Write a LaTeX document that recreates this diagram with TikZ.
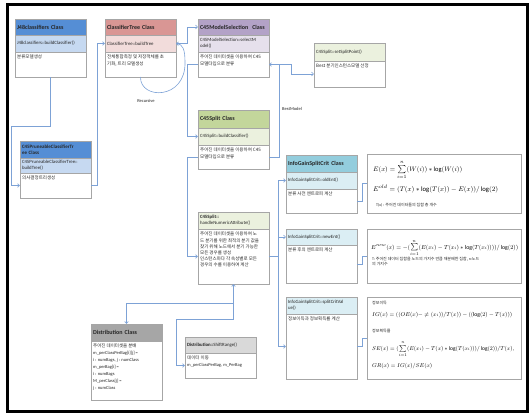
\documentclass[tikz,border=0pt]{standalone}
\usepackage{fontspec}
\usepackage{graphicx}
\setmainfont{Carlito}
\newfontfamily\kr{Noto Sans CJK KR}
\usetikzlibrary{arrows.meta,calc}
\definecolor{bord}{HTML}{A6A6A6}
\definecolor{connc}{HTML}{7DA2D6}
\definecolor{blueH}{HTML}{558ED5}
\definecolor{blueS}{HTML}{C6D9F1}
\definecolor{redH}{HTML}{D99694}
\definecolor{redS}{HTML}{F2DCDB}
\definecolor{purH}{HTML}{B3A2C7}
\definecolor{purS}{HTML}{E6E0EC}
\definecolor{grnH}{HTML}{C3D69B}
\definecolor{grnS}{HTML}{EBF1DE}
\definecolor{tealH}{HTML}{93CDDD}
\definecolor{tealS}{HTML}{DBEEF4}
\definecolor{grayH}{HTML}{A6A6A6}
\definecolor{grayS}{HTML}{D9D9D9}
\definecolor{txt}{HTML}{262626}
\newcommand\umlHfont{\fontsize{6}{7}\selectfont\bfseries}
\newcommand\umlHsfont{\fontsize{5}{6}\selectfont\bfseries}
\newcommand\umlSfont{\fontsize{4.8}{5.8}\selectfont}
\newcommand\umlBfont{\fontsize{4.5}{6.2}\selectfont}
\newcommand\umlMfont{\fontsize{8}{9}\selectfont}
\tikzset{
  part/.style={draw=bord, line width=0.5pt, anchor=north west, inner sep=0pt, outer sep=0pt,
    minimum width=71, text width=67, align=left, text=txt},
  hdr/.style={font=\umlHfont},
  hdrs/.style={font=\umlHsfont},
  subr/.style={font=\umlSfont},
  ptxt/.style={anchor=north west, inner sep=0pt, align=left, font=\umlBfont, text=txt},
  fbox/.style={draw=bord, line width=0.5pt, anchor=north west, inner sep=0pt, outer sep=0pt},
  mtxt/.style={anchor=base west, inner sep=0pt, font=\umlMfont, text=black},
  note/.style={anchor=base west, inner sep=0pt, align=left, font=\fontsize{4}{5}\selectfont, text=txt},
  conn/.style={draw=connc, line width=0.6pt},
  arr/.style={conn, -{Straight Barb[length=2pt,width=3.6pt]}},
  lbl/.style={inner sep=0pt, font=\fontsize{4.5}{5}\selectfont, text=txt},
}
\begin{document}
\begin{tikzpicture}[x=1pt,y=-1pt]
\useasboundingbox (0,0) rectangle (531,415);
\draw[line width=3pt] (7.5,4.5) rectangle (527,411.5);

% J48classifiers
\node[part,fill=blueH,minimum height=16,hdr] (j48h) at (15,19) {J48classifiers Class};
\node[part,fill=blueS,minimum height=17,subr] (j48s) at (15,35) {J48classifiers::buildClassifier()};
\node[part,fill=white,minimum height=25] (j48b) at (15,52) {};
\node[ptxt] (j48t) at (17,55) {{\kr 분류모델생성}};

% ClassifierTree
\node[part,fill=redH,minimum height=16,hdr] (cth) at (105,19) {ClassifierTree Class};
\node[part,fill=redS,minimum height=17,subr] (cts) at (105,35) {ClassifierTree::buildTree};
\node[part,fill=white,minimum height=25] (ctb) at (105,52) {};
\node[ptxt] (ctt) at (107,55) {{\kr 전체통합측정 및 저장객체를 초}\\{\kr 기화, 트리 모델생성}};

% C45ModelSelection
\node[part,fill=purH,minimum height=16,hdr] (msh) at (198,19) {C45ModelSelection\ \ Class};
\node[part,fill=purS,minimum height=17,subr] (mss) at (198,35) {C45ModelSelection::selectM\\odel()};
\node[part,fill=white,minimum height=25] (msb) at (198,52) {};
\node[ptxt] (mst) at (200,55) {{\kr 주어진 데이터셋을 이용하여 C45}\\{\kr 모델타입으로 분류}};

% C45Split::setSplitPoint
\node[part,fill=grnS,minimum height=18,subr] (ssh) at (314,43) {C45Split::setSplitPoint()};
\node[part,fill=white,minimum height=26] (ssb) at (314,61) {};
\node[ptxt] (sst) at (316,64) {{\kr Best 분기인스턴스모델 선정}};

% C45Split
\node[part,fill=grnH,minimum height=18,hdr] (csh) at (198,110) {C45Split Class};
\node[part,fill=grnS,minimum height=17,subr] (css) at (198,128) {C45Split::buildClassifier()};
\node[part,fill=white,minimum height=24] (csb) at (198,145) {};
\node[ptxt] (cst) at (200,148) {{\kr 주어진 데이터셋을 이용하여 C45}\\{\kr 모델타입으로 분류}};

% C45Split::handleNumericAttribute
\node[part,fill=grnS,minimum height=17,subr] (hnh) at (198,212) {\textbf{C45Split::}\\handleNumericAttribute()};
\node[part,fill=white,minimum height=55] (hnb) at (198,229) {};
\node[ptxt] (hnt) at (200,232) {{\kr 주어진 데이터셋을 이용하여 노}\\{\kr 드 분기를 위한 최적의 분기 값을}\\{\kr 찾기 위해 노드에서 분기 가능한}\\{\kr 모든 경우를 생성}\\{\kr 인스턴스마다 각 속성별로 모든}\\{\kr 경우의 수를 이용하여 계산}};

% C45PruneableClassifierTree
\node[part,fill=blueH,minimum height=17,hdrs] (cph) at (20,141) {C45PruneableClassifierTr\\ee Class};
\node[part,fill=blueS,minimum height=15,subr] (cps) at (20,158) {C45PruneableClassifierTree::\\buildTree()};
\node[part,fill=white,minimum height=25] (cpb) at (20,173) {};
\node[ptxt] (cpt) at (22,176) {{\kr 의사결정트리생성}};

% InfoGainSplitCrit
\node[part,fill=tealH,minimum height=17,hdr] (igh) at (286,155) {InfoGainSplitCrit Class};
\node[part,fill=tealS,minimum height=17,subr] (igs) at (286,172) {InfoGainSplitCrit::oldEnt()};
\node[part,fill=white,minimum height=24] (igb) at (286,189) {};
\node[ptxt] (igt) at (288,192) {{\kr 분류 사전 엔트로피 계산}};

\node[part,fill=tealS,minimum height=16,subr] (neh) at (286,229) {InfoGainSplitCrit::newEnt()};
\node[part,fill=white,minimum height=38] (neb) at (286,245) {};
\node[ptxt] (net) at (288,248) {{\kr 분류 후의 엔트로피 계산}};

\node[part,fill=tealS,minimum height=17,subr] (sch) at (286,297) {InfoGainSplitCrit::splitCritVal\\ue()};
\node[part,fill=white,minimum height=65] (scb) at (286,314) {};
\node[ptxt] (sct) at (288,317) {{\kr 정보이득과 정보획득률 계산}};

% Distribution
\node[part,fill=grayH,minimum height=17,hdr] (dsh) at (91,324) {Distribution Class};
\node[part,fill=white,minimum height=59] (dsb) at (91,341) {};
\node[ptxt,font=\fontsize{4.5}{7}\selectfont] (dst) at (93,344) {{\kr 주어진 데이터셋을 분배}\\m\_perClassPerBag[i][j] =\\i : numBags, j : numClass\\m\_perBag[i] =\\i : numBags\\M\_perClass[j] =\\j : numClass};

\node[part,fill=grayS,minimum height=16,subr] (srh) at (185,337) {\textbf{Distribution::}ShiftRange()};
\node[part,fill=white,minimum height=25] (srb) at (185,353) {};
\node[ptxt] (srt) at (187,356) {{\kr 데이터 이동}\\m\_perClassPerBag, m\_PerBag};

% formula boxes
\node[fbox,minimum width=154,minimum height=59] (f1) at (367,154) {};
\node[mtxt] (f1a) at (373,171) {\resizebox{89pt}{!}{$E(x)=\sum\limits_{i=1}^{n}(W(i))*\log(W(i))$}};
\node[mtxt] (f1b) at (373,191) {\resizebox{125pt}{!}{$E^{old}=(T(x)*\log(T(x))-E(x))/\log(2)$}};
\node[note] (f1c) at (376,206) {T(x) : {\kr 주어진 데이터들의 집합 총 개수}};

\node[fbox,minimum width=154,minimum height=54] (f2) at (367,229) {};
\node[mtxt] (f2a) at (371,249) {\resizebox{147pt}{!}{$E^{new}(x)=-(\sum\limits_{i=1}^{n}(E(x_i)-T(x_i)*\log(T(x_i))))/\log(2))$}};
\node[note] (f2b) at (372,265) {T: {\kr 주어진 데이터 집합을 노드의 가지수 만큼 재분배한 집합,} n:{\kr 노드}\\{\kr 의 가지수}};

\node[fbox,minimum width=154,minimum height=82] (f3) at (367,297) {};
\node[note] (f3a) at (372,304) {{\kr 정보이득}};
\node[mtxt] (f3b) at (372,316) {\resizebox{140pt}{!}{$IG(x)=((OE(x)-\neq(x_i))/T(x))-((\log(2)-T(x)))$}};
\node[note] (f3c) at (372,332) {{\kr 정보획득률}};
\node[mtxt] (f3d) at (372,350) {\resizebox{142pt}{!}{$SE(x)=(\sum\limits_{i=1}^{n}(E(x_i)-T(x)*\log(T(x_i)))/\log(2))/T(x),$}};
\node[mtxt] (f3e) at (372,367) {\resizebox{60pt}{!}{$GR(x)=IG(x)/SE(x)$}};

% labels
\node[lbl] (rec) at (146,101) {Recursive};
\node[lbl] (bml) at (292,109) {BestModel};

% connectors
\draw[arr] (j48b.south) -- (j48b.south |- 0,126) -- (11,126) |- (cpb.west);
\draw[arr] (cpb.east) -- ++(6,0) |- (cts.west);
\draw[arr] (ctb.south) .. controls (140,100) and (186,100) .. (185,62) .. controls (185,50) and (183,44) .. (cts.east);
\draw[arr] (cts.east) -- ++(11,0) |- (msh.west);
\draw[arr] (msb.west) -- ++(-11,0) |- (css.west);
\draw[arr] (csb.east) -- ++(10,0) |- (msb.east);
\coordinate (bm) at ($(msb.east)+(10,0)$);
\draw[arr] (bm) -- ++(12,0) |- (ssb.west);
\draw[arr] (csb.west) -- ++(-11,0) |- (hnb.west);
\coordinate (bus) at ($(hnb.east)+(9,0)$);
\draw[conn] (hnb.east) -- (bus);
\draw[arr] (bus) |- (igs.west);
\draw[arr] (bus) |- (neh.west);
\draw[arr] (bus) |- (scb.west);
\coordinate (dj) at (hnb.south |- 0,319);
\draw[arr] (dj) -- (hnb.south);
\draw[arr] (hnb.south |- 0,303) -| (dsh.north);
\draw[arr] (dj) -- (176,319) |- (srb.west);
\draw[conn] (igb.east) -- ++(5,0) |- (f1.west);
\draw[conn] (neb.east) -- ++(5,0) |- (f2.west);
\draw[conn] (scb.east) -- ++(5,0) |- (f3.west);
\end{tikzpicture}
\end{document}
